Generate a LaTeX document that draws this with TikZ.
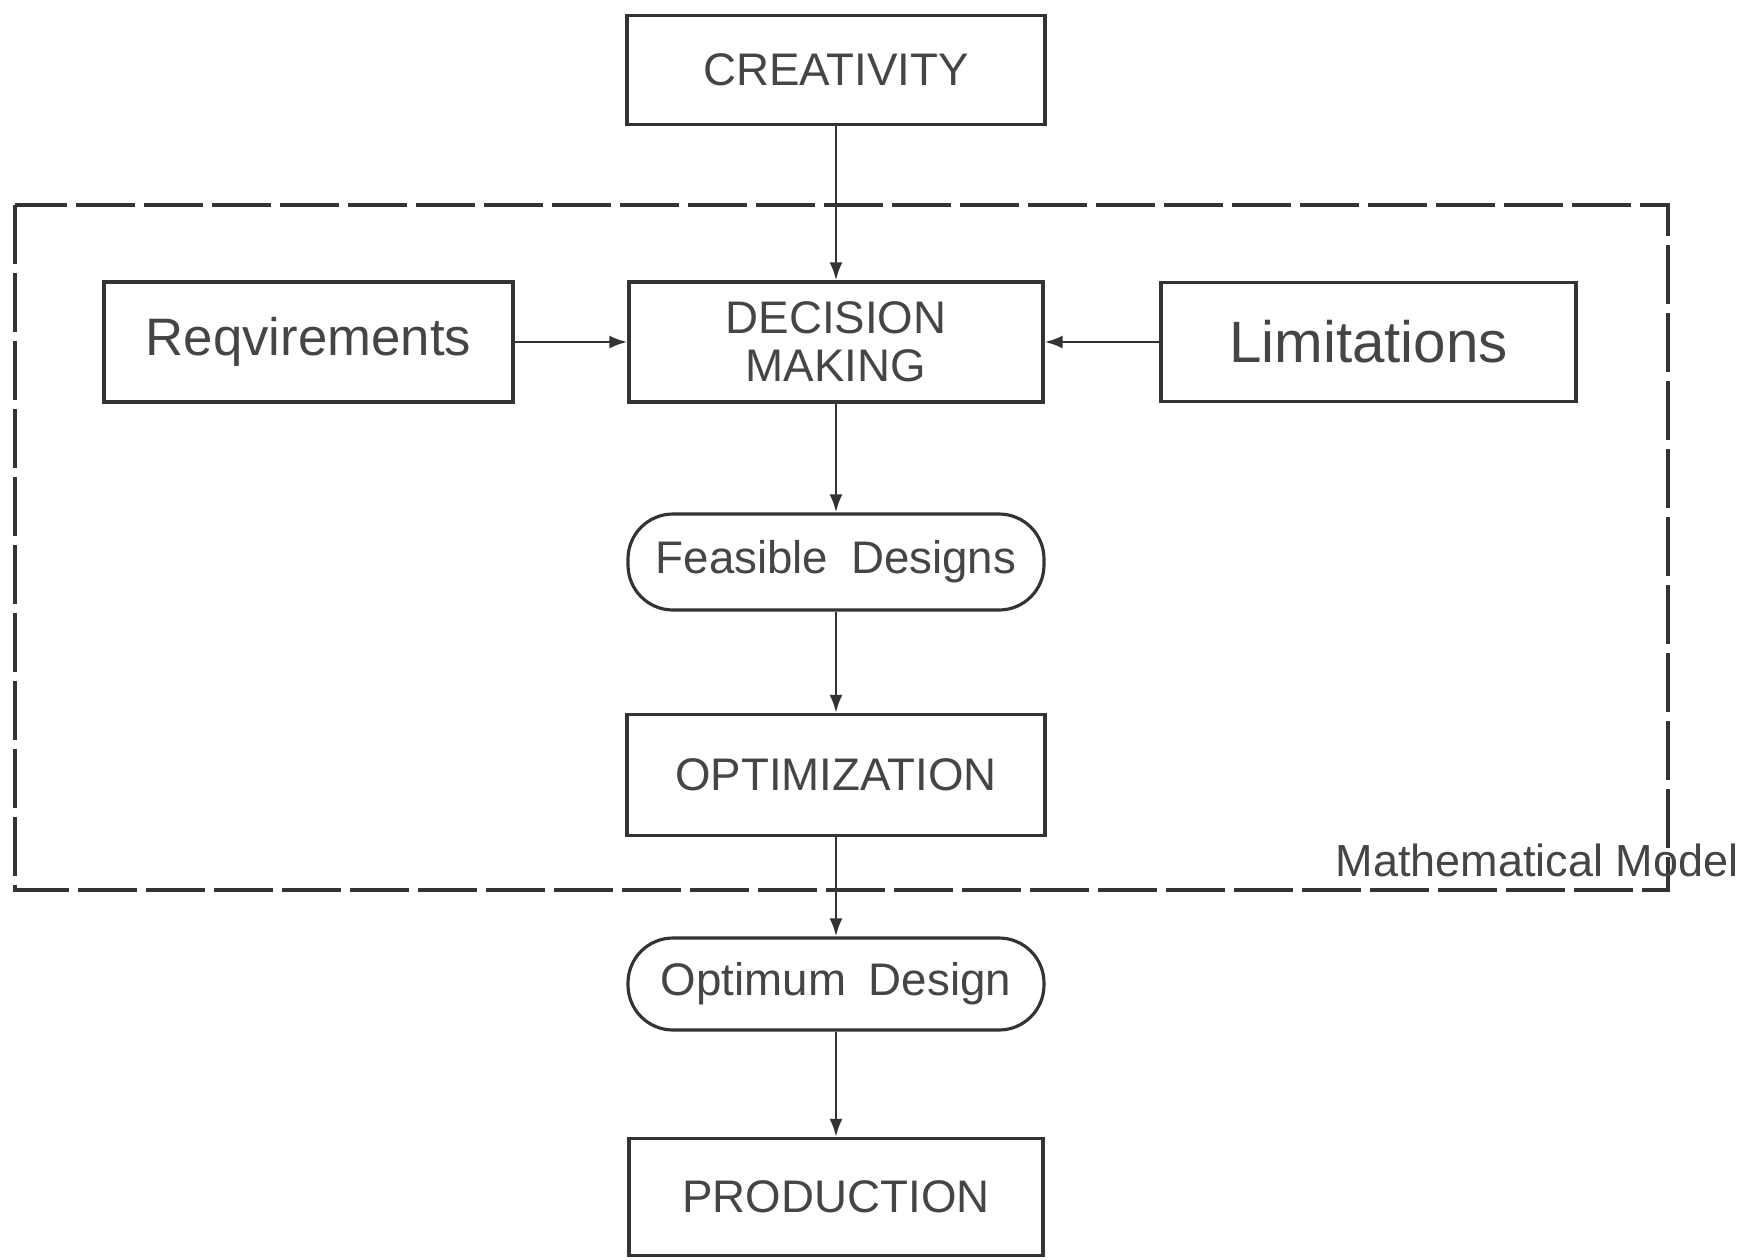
\documentclass[tikz,border=0pt]{standalone}
\usepackage{fontspec}
\setmainfont{Liberation Sans}
\usepackage{tikz}
\usetikzlibrary{arrows.meta}
\usepackage{xcolor}
\definecolor{Ink}{HTML}{333333}
\definecolor{Lead}{HTML}{454545}
\newcommand{\lbl}{\fontsize{13}{13.6}\selectfont}
\newcommand{\lblbig}{\fontsize{15}{17}\selectfont}
\newcommand{\lblbigger}{\fontsize{16.6}{18}\selectfont}

\begin{document}
\begin{tikzpicture}[x=0.1mm,y=-0.1mm,
    stagebox/.style={draw=Ink,line width=0.9pt,inner sep=0pt,text=Lead,align=center,font=\lbl},
    outcome/.style={stagebox,rounded corners=4.5mm},
    flow/.style={draw=Ink,line width=0.8pt,-{Latex[length=1.8mm,width=1.3mm]}}]
    \useasboundingbox (0,0) rectangle (1755,1260);

    \draw[draw=Ink,line width=0.9pt,dash pattern=on 5.9mm off 0.9mm] (15,205) rectangle (1668,890);
    \node[text=Lead,font=\fontsize{12.8}{14}\selectfont] (model) at (1537,860) {Mathematical Model};

    \node[stagebox,minimum width=41.8mm,minimum height=10.9mm] (creat) at (836,70) {CREATIVITY};
    \node[stagebox,minimum width=40.9mm,minimum height=12mm,font=\lblbig] (req) at (308.5,342) {Reqvirements};
    \node[stagebox,minimum width=41.4mm,minimum height=12mm] (dec) at (836,342) {DECISION\\MAKING};
    \node[stagebox,minimum width=41.5mm,minimum height=11.9mm,font=\lblbigger] (lim) at (1368.5,342) {Limitations};
    \node[outcome,minimum width=41.6mm,minimum height=9.6mm] (feas) at (836,562) {Feasible\enspace Designs};
    \node[stagebox,minimum width=41.8mm,minimum height=12.1mm] (opt) at (836,775) {OPTIMIZATION};
    \node[outcome,minimum width=41.6mm,minimum height=9.2mm] (optd) at (836,984) {Optimum\enspace Design};
    \node[stagebox,minimum width=41.4mm,minimum height=11.7mm] (prod) at (836,1197) {PRODUCTION};

    \draw[flow] (creat) -- (dec);
    \draw[flow] (req) -- (dec);
    \draw[flow] (lim) -- (dec);
    \draw[flow] (dec) -- (feas);
    \draw[flow] (feas) -- (opt);
    \draw[flow] (opt) -- (optd);
    \draw[flow] (optd) -- (prod);
\end{tikzpicture}
\end{document}
